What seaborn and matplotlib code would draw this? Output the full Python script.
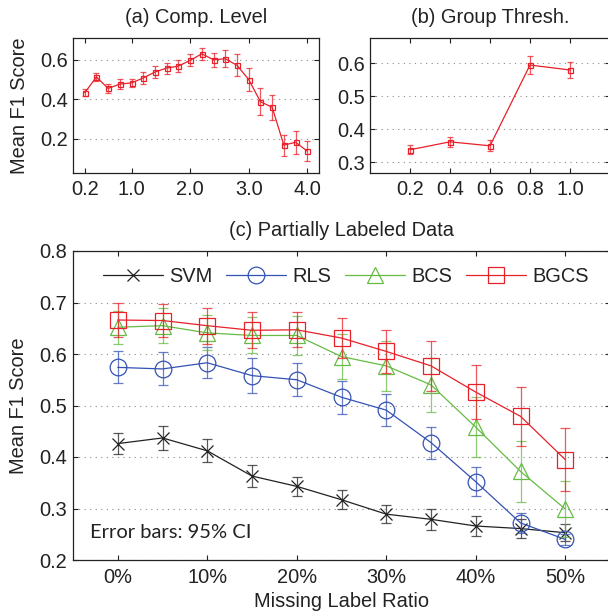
import matplotlib
matplotlib.use("Agg")
import matplotlib.pyplot as plt
import matplotlib.ticker as mticker
import seaborn as sns
import numpy as np

# (a) compression level
COMP_LEVEL = [0.2, 0.4, 0.6, 0.8, 1.0, 1.2, 1.4, 1.6, 1.8, 2.0,
              2.2, 2.4, 2.6, 2.8, 3.0, 3.2, 3.4, 3.6, 3.8, 4.0]
COMP_F1 = [0.433, 0.513, 0.455, 0.477, 0.483, 0.508, 0.538, 0.558, 0.568, 0.597,
           0.630, 0.600, 0.605, 0.572, 0.500, 0.388, 0.360, 0.168, 0.183, 0.138]
COMP_CI = [0.018, 0.020, 0.022, 0.025, 0.022, 0.030, 0.028, 0.028, 0.030, 0.030,
           0.030, 0.036, 0.043, 0.055, 0.060, 0.067, 0.064, 0.053, 0.058, 0.050]

# (b) group threshold
GROUP_THRESH = [0.2, 0.4, 0.6, 0.8, 1.0]
GROUP_F1 = [0.338, 0.362, 0.350, 0.595, 0.580]
GROUP_CI = [0.014, 0.015, 0.017, 0.027, 0.025]

# (c) partially labeled data
MISSING = [0, 5, 10, 15, 20, 25, 30, 35, 40, 45, 50]
METHODS = ["SVM", "RLS", "BCS", "BGCS"]
SVM_F1 = [0.426, 0.437, 0.412, 0.363, 0.343, 0.317, 0.289, 0.279, 0.266, 0.261, 0.253]
SVM_CI = [0.020, 0.023, 0.022, 0.022, 0.018, 0.018, 0.018, 0.020, 0.019, 0.019, 0.016]
RLS_F1 = [0.574, 0.571, 0.583, 0.558, 0.550, 0.516, 0.491, 0.428, 0.352, 0.272, 0.240]
RLS_CI = [0.031, 0.032, 0.030, 0.034, 0.032, 0.032, 0.031, 0.031, 0.028, 0.020, 0.010]
BCS_F1 = [0.652, 0.655, 0.641, 0.636, 0.636, 0.595, 0.577, 0.540, 0.458, 0.372, 0.299]
BCS_CI = [0.032, 0.034, 0.034, 0.035, 0.037, 0.044, 0.048, 0.053, 0.058, 0.060, 0.055]
BGCS_F1 = [0.666, 0.665, 0.655, 0.646, 0.647, 0.631, 0.605, 0.577, 0.526, 0.479, 0.395]
BGCS_CI = [0.033, 0.032, 0.035, 0.035, 0.034, 0.038, 0.042, 0.048, 0.053, 0.057, 0.061]

sns.set_theme(style="ticks")
plt.rcParams.update({
    "font.family": ["Liberation Sans", "DejaVu Sans"],
    "font.size": 14.4,
    "text.color": "#222222",
    "axes.labelcolor": "#222222",
})

RED = "#e8202a"
BLUE = "#3452b4"
GREEN = "#66bb44"
BLACK = "#222222"
W, H = 608, 615


def px_axes(fig, left, top, right, bottom):
    return fig.add_axes([left / W, (H - bottom) / H, (right - left) / W, (bottom - top) / H])


def style(ax, ypad=3.6):
    ax.tick_params(direction="in", top=True, right=True, length=3.6, width=0.8,
                   color="#222222", labelcolor="#222222", labelsize=14.4)
    ax.tick_params(axis="x", pad=5.5)
    ax.tick_params(axis="y", pad=ypad)
    for sp in ax.spines.values():
        sp.set_linewidth(0.9)
        sp.set_color("#222222")
    ax.grid(False)
    ax.yaxis.grid(True, linestyle=(0, (1, 4)), color="#8a8a8a", linewidth=0.8)
    ax.set_axisbelow(True)


fig = plt.figure(figsize=(W / 100, H / 100), dpi=100)
ax_a = px_axes(fig, 73, 38, 319, 172.5)
ax_b = px_axes(fig, 370, 38, 610, 172.5)
ax_c = px_axes(fig, 73, 251, 610, 560)

# panel (a)
ax_a.errorbar(COMP_LEVEL, COMP_F1, yerr=COMP_CI, fmt="none", ecolor=RED, alpha=0.75,
              elinewidth=0.9, capsize=2.2, capthick=0.9)
sns.lineplot(x=COMP_LEVEL, y=COMP_F1, ax=ax_a, color=RED, linewidth=0.9, marker="s",
             markersize=3.6, markerfacecolor="none", markeredgecolor=RED, markeredgewidth=0.9)
ax_a.set_xlim(0, 4.2)
ax_a.set_ylim(0.03, 0.71)
ax_a.set_xticks([0.2, 1.0, 2.0, 3.0, 4.0])
ax_a.set_yticks([0.2, 0.4, 0.6])
ax_a.xaxis.set_major_formatter(mticker.FormatStrFormatter("%.1f"))
ax_a.yaxis.set_major_formatter(mticker.FormatStrFormatter("%.1f"))
ax_a.set_ylabel("Mean F1 Score", fontsize=14.4)
ax_a.yaxis.set_label_coords(-0.18, 0.5)
ax_a.set_title("(a) Comp. Level", fontsize=14.4, pad=11)
style(ax_a)

# panel (b)
ax_b.errorbar(GROUP_THRESH, GROUP_F1, yerr=GROUP_CI, fmt="none", ecolor=RED, alpha=0.75,
              elinewidth=0.9, capsize=2.2, capthick=0.9)
sns.lineplot(x=GROUP_THRESH, y=GROUP_F1, ax=ax_b, color=RED, linewidth=0.9, marker="s",
             markersize=3.6, markerfacecolor="none", markeredgecolor=RED, markeredgewidth=0.9)
ax_b.set_xlim(0, 1.2)
ax_b.set_ylim(0.269, 0.677)
ax_b.set_xticks(GROUP_THRESH)
ax_b.set_yticks([0.3, 0.4, 0.5, 0.6])
ax_b.xaxis.set_major_formatter(mticker.FormatStrFormatter("%.1f"))
ax_b.yaxis.set_major_formatter(mticker.FormatStrFormatter("%.1f"))
ax_b.set_title("(b) Group Thresh.", fontsize=14.4, pad=11)
style(ax_b)

# panel (c)
series = {
    "SVM": (SVM_F1, SVM_CI, BLACK, "x", 9),
    "RLS": (RLS_F1, RLS_CI, BLUE, "o", 12),
    "BCS": (BCS_F1, BCS_CI, GREEN, "^", 12),
    "BGCS": (BGCS_F1, BGCS_CI, RED, "s", 11),
}
for name in METHODS:
    f1, ci, col, mk, ms = series[name]
    ax_c.errorbar(MISSING, f1, yerr=ci, fmt="none", ecolor=col, alpha=0.75,
                  elinewidth=0.9, capsize=3.5, capthick=0.9)
    sns.lineplot(x=MISSING, y=f1, ax=ax_c, color=col, linewidth=0.9, marker=mk,
                 markersize=ms, markerfacecolor="none", markeredgecolor=col,
                 markeredgewidth=0.9, label=name)
ax_c.set_xlim(-5, 55)
ax_c.set_ylim(0.2, 0.8)
ax_c.set_xticks([0, 10, 20, 30, 40, 50])
ax_c.set_xticklabels(["0%", "10%", "20%", "30%", "40%", "50%"])
ax_c.set_yticks([0.2, 0.3, 0.4, 0.5, 0.6, 0.7, 0.8])
ax_c.yaxis.set_major_formatter(mticker.FormatStrFormatter("%.1f"))
ax_c.set_ylabel("Mean F1 Score", fontsize=14.4)
ax_c.yaxis.set_label_coords(-0.084, 0.5)
ax_c.set_xlabel("Missing Label Ratio", fontsize=14.4)
ax_c.xaxis.set_label_coords(0.5, -0.102)
ax_c.set_title("(c) Partially Labeled Data", fontsize=14.4, pad=11)
style(ax_c, ypad=4.5)
ax_c.legend(loc="center", bbox_to_anchor=(0.508, 0.919), ncol=4, frameon=False,
            handlelength=3.0, handletextpad=0.35, columnspacing=0.65, fontsize=14.4,
            borderaxespad=0)
ax_c.text(0.032, 0.09, "Error bars: 95% CI", transform=ax_c.transAxes, ha="left",
          va="center", fontsize=14.5, family=["Lato", "DejaVu Sans"], color="#222222")

fig.savefig("out.png", dpi=100)
